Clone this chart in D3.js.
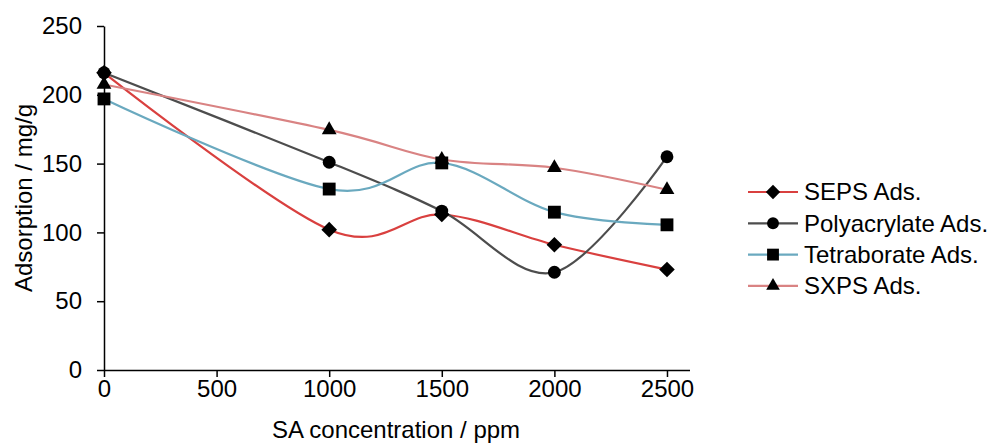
<!DOCTYPE html>
<html>
<head>
    <script src="https://d3js.org/d3.v7.min.js"></script>
    <style>
        body { margin: 0; background: #fff; }
        text { font-family: "Liberation Sans", Arial, sans-serif; fill: #000; }
    </style>
</head>
<body>
    <svg width="989" height="444"></svg>
    <script>
        const concentrations = [0, 1000, 1500, 2000, 2500];
        const seps = [216, 102, 113, 91, 73];
        const polyacrylate = [216, 151, 115.5, 71, 155];
        const tetraborate = [197, 131.5, 150.5, 114.7, 105.5];
        const sxps = [207.5, 174.5, 153, 147, 131];
        const xTicks = [0, 500, 1000, 1500, 2000, 2500];
        const yTicks = [0, 50, 100, 150, 200, 250];

        const series = [
            { name: "SEPS Ads.", values: seps, color: "#d9403f", symbol: d3.symbolDiamond2, size: 155 },
            { name: "Polyacrylate Ads.", values: polyacrylate, color: "#4d4d4d", symbol: d3.symbolCircle, size: 130 },
            { name: "Tetraborate Ads.", values: tetraborate, color: "#6aa9bf", symbol: d3.symbolSquare, size: 165 },
            { name: "SXPS Ads.", values: sxps, color: "#d98383", symbol: d3.symbolTriangle, size: 95 }
        ];

        const svg = d3.select("svg");
        const fontSize = 24;

        const x = d3.scaleLinear().domain([0, 2600]).range([104, 689.5]);
        const y = d3.scaleLinear().domain([0, 250]).range([370, 26]);

        // axes
        const xAxis = svg.append("g")
            .attr("transform", "translate(0," + y(0) + ")")
            .call(d3.axisBottom(x).tickValues(xTicks).tickFormat(d3.format("d"))
                .tickSize(7).tickSizeOuter(0).tickPadding(3));
        const yAxis = svg.append("g")
            .attr("transform", "translate(" + x(0) + ",0)")
            .call(d3.axisLeft(y).tickValues(yTicks).tickFormat(d3.format("d"))
                .tickSize(7).tickSizeOuter(0).tickPadding(15));

        [xAxis, yAxis].forEach(g => {
            g.selectAll("path, line").attr("stroke", "#000").attr("stroke-width", 1.5);
            g.selectAll("text").style("font-size", fontSize + "px").style("font-family", "Liberation Sans, Arial, sans-serif");
        });

        // lines
        const line = d3.line()
            .x((d, i) => x(concentrations[i]))
            .y(d => y(d))
            .curve(d3.curveCardinal.tension(0));

        series.forEach(s => {
            svg.append("path")
                .attr("d", line(s.values))
                .attr("fill", "none")
                .attr("stroke", s.color)
                .attr("stroke-width", 2.2);
        });

        // markers (last series first so first series sits on top)
        series.slice().reverse().forEach(s => {
            svg.append("g").selectAll("path")
                .data(s.values)
                .enter()
                .append("path")
                .attr("transform", (d, i) => "translate(" + x(concentrations[i]) + "," + y(d) + ")")
                .attr("d", d3.symbol().type(s.symbol).size(s.size))
                .attr("fill", "#000");
        });

        // axis titles
        svg.append("text")
            .attr("x", 396)
            .attr("y", 438)
            .style("text-anchor", "middle")
            .style("font-size", fontSize + "px")
            .text("SA concentration / ppm");

        svg.append("text")
            .attr("transform", "rotate(-90)")
            .attr("x", -198)
            .attr("y", 32)
            .style("text-anchor", "middle")
            .style("font-size", fontSize + "px")
            .text("Adsorption / mg/g");

        // legend
        const legend = svg.append("g").attr("transform", "translate(748,192)");
        series.forEach((s, i) => {
            const row = legend.append("g").attr("transform", "translate(0," + (i * 31.3) + ")");
            row.append("line")
                .attr("x1", 0).attr("x2", 50)
                .attr("stroke", s.color).attr("stroke-width", 2.2);
            row.append("path")
                .attr("transform", "translate(25,0)")
                .attr("d", d3.symbol().type(s.symbol).size(s.size * 0.85))
                .attr("fill", "#000");
            row.append("text")
                .attr("x", 56)
                .attr("dy", "0.35em")
                .style("font-size", fontSize + "px")
                .text(s.name);
        });
    </script>
</body>
</html>
